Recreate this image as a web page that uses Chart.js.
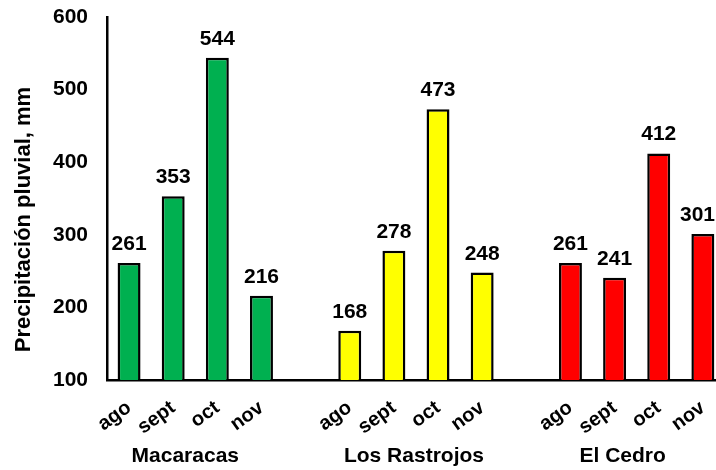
<!DOCTYPE html>
<html>
<head>
<meta charset="utf-8">
<script src="https://cdn.jsdelivr.net/npm/chart.js@4.4.1/dist/chart.umd.min.js"></script>
<style>
  html, body { margin: 0; padding: 0; background: #fff; overflow: hidden; }
  #wrap { width: 733px; height: 470px; position: relative; }
</style>
</head>
<body>
<div id="wrap"><canvas id="c"></canvas></div>
<script>
// Monthly rainfall (mm) at three stations
const months = ['ago', 'sept', 'oct', 'nov'];
const sites = ['Macaracas', 'Los Rastrojos', 'El Cedro'];
const macaracas = [261, 353, 544, 216];
const losRastrojos = [168, 278, 473, 248];
const elCedro = [261, 241, 412, 301];
const siteColors = ['#00B050', '#FFFF00', '#FF0000'];
const yTicks = [100, 200, 300, 400, 500, 600];
const yTitle = 'Precipitación pluvial, mm';

const FONT = '"Liberation Sans", Arial, Helvetica, sans-serif';
const siteSeries = [macaracas, losRastrojos, elCedro];

// One category slot per month, with an empty slot between stations
const labels = [];
const values = [];
const colors = [];
const groupSlots = [];
siteSeries.forEach((series, g) => {
  if (g > 0) { labels.push(''); values.push(null); colors.push('#fff'); }
  const start = labels.length;
  series.forEach((v, i) => {
    labels.push(months[i]);
    values.push(v);
    colors.push(siteColors[g]);
  });
  groupSlots.push([start, labels.length - 1]);
});

// Value labels above each bar, kept inside the visible window
const valueLabels = {
  id: 'valueLabels',
  afterDatasetsDraw(chart) {
    const ctx = chart.ctx;
    const meta = chart.getDatasetMeta(0);
    const visibleRight = Math.min(window.innerWidth || chart.width, chart.width);
    ctx.save();
    ctx.font = 'bold 21px ' + FONT;
    ctx.fillStyle = '#000';
    ctx.textAlign = 'center';
    ctx.textBaseline = 'alphabetic';
    meta.data.forEach((bar, i) => {
      const v = values[i];
      if (v == null) return;
      const txt = String(v);
      const half = ctx.measureText(txt).width / 2;
      const cx = Math.min(bar.x, visibleRight - half - 1);
      ctx.fillText(txt, cx, bar.y - 13);
    });
    ctx.restore();
  }
};

// Station names under each group of months, plus the vertical axis title
const groupShift = [-10, -2, -14];
const groupLabels = {
  id: 'groupLabels',
  afterDraw(chart) {
    const ctx = chart.ctx;
    const x = chart.scales.x;
    const area = chart.chartArea;
    ctx.save();
    ctx.font = 'bold 21px ' + FONT;
    ctx.fillStyle = '#000';
    ctx.textAlign = 'center';
    ctx.textBaseline = 'middle';
    groupSlots.forEach((s, g) => {
      const cx = (x.getPixelForValue(s[0]) + x.getPixelForValue(s[1])) / 2 + groupShift[g];
      ctx.fillText(sites[g], cx, 456);
    });
    ctx.font = 'bold 22px ' + FONT;
    ctx.translate(24, (area.top + area.bottom) / 2 + 21);
    ctx.rotate(-Math.PI / 2);
    ctx.fillText(yTitle, 0, 0);
    ctx.restore();
  }
};

new Chart(document.getElementById('c'), {
  type: 'bar',
  data: {
    labels: labels,
    datasets: [{
      data: values,
      backgroundColor: colors,
      borderColor: '#000',
      borderWidth: 2.5,
      barPercentage: 0.52,
      categoryPercentage: 1
    }]
  },
  options: {
    responsive: true,
    maintainAspectRatio: false,
    animation: false,
    events: [],
    layout: { padding: { top: 17, right: 1, left: 0, bottom: 0 } },
    plugins: { legend: { display: false }, tooltip: { enabled: false } },
    scales: {
      x: {
        grid: { display: false, drawTicks: false },
        border: { display: true, color: '#000', width: 2.5 },
        ticks: {
          color: '#000',
          font: { family: FONT, size: 20, weight: 'bold' },
          minRotation: 36,
          maxRotation: 36,
          autoSkip: false,
          padding: 16
        },
        afterFit(scale) { scale.height = 90; }
      },
      y: {
        min: 100,
        max: 600,
        afterBuildTicks(scale) { scale.ticks = yTicks.map(v => ({ value: v })); },
        // invisible tick marks keep the labels clear of the axis line
        grid: {
          display: true,
          drawOnChartArea: false,
          drawTicks: true,
          tickLength: 19,
          tickColor: 'rgba(0,0,0,0)'
        },
        border: { display: true, color: '#000', width: 2.5 },
        ticks: {
          color: '#000',
          font: { family: FONT, size: 21, weight: 'bold' },
          padding: 0
        },
        title: { display: false },
        afterFit(scale) { scale.width = 107; }
      }
    }
  },
  plugins: [valueLabels, groupLabels]
});
</script>
</body>
</html>
